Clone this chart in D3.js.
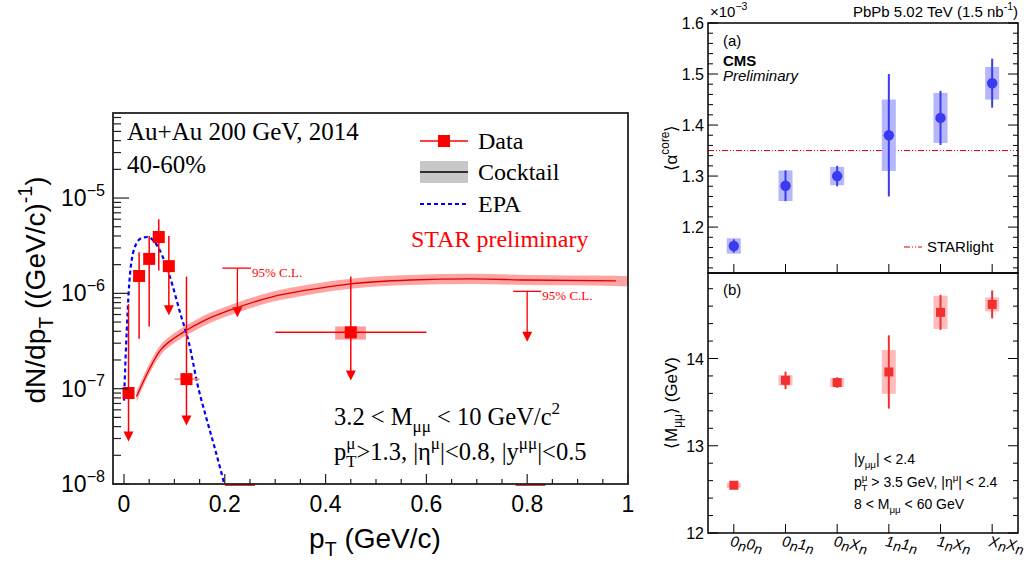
<!DOCTYPE html>
<html lang="en">
<head>
<meta charset="UTF-8">
<title>STAR pT spectrum and CMS neutron classes</title>
<script src="https://cdn.jsdelivr.net/npm/d3@7"></script>
<style>body{margin:0;background:#fff}</style>
</head>
<body>
<div id="chart"></div>
<script>
const width = 1026
const height = 566

// ---- left panel: STAR dN/dpT ----
const dataPt = [0.009, 0.03, 0.05, 0.069, 0.089, 0.124, 0.45]
const dataY = [9.0e-8, 1.52e-6, 2.3e-6, 3.9e-6, 1.93e-6, 1.26e-7, 3.9e-7]
const dataHi = [7.7e-7, 2.7e-6, 4.0e-6, 6.0e-6, 4.0e-6, 1.5e-6, 1.5e-6]
const dataLo = [2.8e-8, 3.35e-7, 4.5e-7, 1.74e-6, 5.9e-7, 4.1e-8, 1.22e-7]
const dataArrow = [true, false, false, false, true, true, true]
const dataXLo = [null, null, null, null, null, 0.10, 0.30]
const dataXHi = [null, null, null, null, null, 0.15, 0.60]
const sysPt = [0.419, 0.48]
const sysY = [3.27e-7, 4.5e-7]

const ulPt = [0.225, 0.80]
const ulY = [1.84e-6, 1.05e-6]
const ulArrow = [5.6e-7, 3.1e-7]
const ulXLo = [0.195, 0.772]
const ulXHi = [0.252, 0.828]

const cockPt = [0.025, 0.074, 0.10, 0.124, 0.16, 0.225, 0.294, 0.362, 0.45, 0.568, 0.69, 0.80, 0.976]
const cockY = [8.3e-8, 2.6e-7, 3.4e-7, 4.1e-7, 5.2e-7, 7.1e-7, 9.2e-7, 1.08e-6, 1.26e-6, 1.38e-6, 1.42e-6, 1.38e-6, 1.35e-6]
const cockBandEnd = [1.0, 1.34e-6]

const epaPt = [0.0, 0.0055, 0.012, 0.023, 0.035, 0.047, 0.06, 0.07, 0.091, 0.112, 0.129, 0.146, 0.163, 0.18, 0.199]
const epaY = [7.5e-8, 4.1e-7, 1.6e-6, 3.2e-6, 3.8e-6, 3.9e-6, 3.5e-6, 2.9e-6, 1.5e-6, 6.1e-7, 3.0e-7, 1.1e-7, 5.0e-8, 2.4e-8, 1.0e-8]

const xTicksL = [0, 0.2, 0.4, 0.6, 0.8, 1]
const xTickLabelsL = ["0", "0.2", "0.4", "0.6", "0.8", "1"]
const yDecadesL = [-8, -7, -6, -5]

// ---- right panels: CMS ----
const cats = ["0n0n", "0n1n", "0nXn", "1n1n", "1nXn", "XnXn"]
const alphaVal = [1.163, 1.281, 1.300, 1.380, 1.414, 1.482]
const alphaStat = [0.013, 0.03, 0.02, 0.12, 0.053, 0.048]
const alphaSys = [0.015, 0.03, 0.018, 0.07, 0.049, 0.032]
const starlight = 1.35
const massVal = [12.547, 13.75, 13.724, 13.846, 14.529, 14.62]
const massStat = [0.02, 0.1, 0.06, 0.42, 0.2, 0.16]
const massSys = [0.03, 0.06, 0.05, 0.25, 0.19, 0.08]
const yTicksA = [1.2, 1.3, 1.4, 1.5, 1.6]
const yTicksB = [12, 13, 14]

const sans = "'Liberation Sans', Arial, sans-serif"
const serif = "'Liberation Serif', 'Times New Roman', serif"

const svg = d3.select("#chart").append("svg")
    .attr("width", width).attr("height", height)

// text with sub/superscripts: parts = [[text, "sub"|"sup", dx]]
const rich = (sel, parts, size, scale = 0.7) => {
    let cur = 0
    parts.forEach(([t, k, dx]) => {
        const target = k === "sub" ? size * 0.3 : k === "sup" ? -size * 0.45 : 0
        const ts = sel.append("tspan").text(t).attr("dy", target - cur)
        if (k) ts.attr("font-size", size * scale)
        if (dx) ts.attr("dx", dx)
        cur = target
    })
    return sel
}
const label = (x, y, size, family, fill) => svg.append("text")
    .attr("x", x).attr("y", y).attr("font-size", size)
    .attr("font-family", family).attr("fill", fill || "#000")

// ================= LEFT =================
const L = {x0: 113, x1: 628, y0: 113, y1: 484}
const xL = d3.scaleLinear().domain([-0.0218, 1]).range([L.x0, L.x1])
const yL = d3.scaleLog().domain([1e-8, 7.8e-5]).range([L.y1, L.y0])

svg.append("clipPath").attr("id", "clipL").append("rect")
    .attr("x", L.x0).attr("y", L.y0).attr("width", L.x1 - L.x0).attr("height", L.y1 - L.y0)
const plotL = svg.append("g").attr("clip-path", "url(#clipL)")

const cock = cockPt.map((p, i) => [p, cockY[i]])
plotL.append("path")
    .datum(cock.concat([cockBandEnd]))
    .attr("fill", "#ffa3a3")
    .attr("d", d3.area().x(d => xL(d[0])).y0(d => yL(d[1] / 1.13)).y1(d => yL(d[1] * 1.13))
        .curve(d3.curveMonotoneX))
plotL.append("path")
    .datum(cock)
    .attr("fill", "none").attr("stroke", "#e00000").attr("stroke-width", 1.3)
    .attr("d", d3.line().x(d => xL(d[0])).y(d => yL(d[1])).curve(d3.curveMonotoneX))

plotL.append("path")
    .datum(epaPt.map((p, i) => [p, epaY[i]]))
    .attr("fill", "none").attr("stroke", "#0000ff").attr("stroke-width", 2.2)
    .attr("stroke-dasharray", "4,3")
    .attr("d", d3.line().x(d => xL(d[0])).y(d => yL(d[1])).curve(d3.curveMonotoneX))

// systematic box on wide bin
plotL.append("rect")
    .attr("x", xL(sysPt[0])).attr("width", xL(sysPt[1]) - xL(sysPt[0]))
    .attr("y", yL(sysY[1])).attr("height", yL(sysY[0]) - yL(sysY[1]))
    .attr("fill", "#ff9c9c")

const arrowHead = (g, x, y) => g.append("path")
    .attr("d", `M${x - 5},${y - 10}L${x + 5},${y - 10}L${x},${y}Z`)
    .attr("fill", "#ff0000")

dataPt.forEach((p, i) => {
    const x = xL(p)
    if (dataXLo[i] !== null) {
        plotL.append("line")
            .attr("x1", xL(dataXLo[i])).attr("x2", xL(dataXHi[i]))
            .attr("y1", yL(dataY[i])).attr("y2", yL(dataY[i]))
            .attr("stroke", i === 5 ? "#ff8080" : "#ff0000").attr("stroke-width", 1.5)
    }
    plotL.append("line")
        .attr("x1", x).attr("x2", x)
        .attr("y1", yL(dataHi[i])).attr("y2", yL(dataLo[i]) - (dataArrow[i] ? 4 : 0))
        .attr("stroke", "#ff0000").attr("stroke-width", 1.5)
    if (dataArrow[i]) arrowHead(plotL, x, yL(dataLo[i]))
    plotL.append("rect")
        .attr("x", x - 6).attr("y", yL(dataY[i]) - 6)
        .attr("width", 12).attr("height", 12).attr("fill", "#ff0000")
})

ulPt.forEach((p, i) => {
    const x = xL(p)
    plotL.append("line")
        .attr("x1", xL(ulXLo[i])).attr("x2", xL(ulXHi[i]))
        .attr("y1", yL(ulY[i])).attr("y2", yL(ulY[i]))
        .attr("stroke", "#ff0000").attr("stroke-width", 1.3)
    plotL.append("line")
        .attr("x1", x).attr("x2", x)
        .attr("y1", yL(ulY[i])).attr("y2", yL(ulArrow[i]) - 4)
        .attr("stroke", "#ff0000").attr("stroke-width", 1.3)
    arrowHead(plotL, x, yL(ulArrow[i]))
    label(xL(ulXHi[i]) + 1, yL(ulY[i]) + 9, 13, serif, "#ff0000").text("95% C.L.")
    // clipped bin marks on the axis
    svg.append("line")
        .attr("x1", xL(ulXLo[i] + 0.005)).attr("x2", xL(ulXHi[i] + 0.008))
        .attr("y1", L.y1 + 1).attr("y2", L.y1 + 1)
        .attr("stroke", "#b00000").attr("stroke-width", 1.5)
})

// frame + ticks
svg.append("rect")
    .attr("x", L.x0).attr("y", L.y0).attr("width", L.x1 - L.x0).attr("height", L.y1 - L.y0)
    .attr("fill", "none").attr("stroke", "#222").attr("stroke-width", 1.8)

const ticksL = svg.append("g").attr("stroke", "#222").attr("stroke-width", 1.2)
yDecadesL.forEach(k => {
    d3.range(1, 10).forEach(j => {
        const v = j * Math.pow(10, k)
        if (v > yL.domain()[1]) return
        ticksL.append("line")
            .attr("x1", L.x0).attr("x2", L.x0 + (j === 1 ? 16 : 8))
            .attr("y1", yL(v)).attr("y2", yL(v))
    })
    rich(label(L.x0 - 8, yL(Math.pow(10, k)) + 8, 23, sans).attr("text-anchor", "end"),
        [["10"], ["\u2212" + (-k), "sup"]], 23)
})
d3.range(0, 21).forEach(i => {
    const v = i * 0.05
    ticksL.append("line")
        .attr("x1", xL(v)).attr("x2", xL(v))
        .attr("y1", L.y1).attr("y2", L.y1 - (i % 4 === 0 ? 10 : 5))
})
xTicksL.forEach((v, i) => {
    label(xL(v), 512, 23, sans).attr("text-anchor", "middle").text(xTickLabelsL[i])
})

rich(label(375, 548, 28, sans).attr("text-anchor", "middle"),
    [["p"], ["T", "sub"], [" (GeV/c)"]], 28)
rich(svg.append("text").attr("transform", "translate(45,290) rotate(-90)")
    .attr("text-anchor", "middle").attr("font-size", 28).attr("font-family", sans),
    [["dN/dp"], ["T", "sub"], [" ((GeV/c)"], ["-1", "sup"], [")"]], 28)

// legend + labels
label(127, 140, 25, serif).text("Au+Au 200 GeV, 2014")
label(127, 173, 25, serif).text("40-60%")
svg.append("line").attr("x1", 420).attr("x2", 468).attr("y1", 141).attr("y2", 141)
    .attr("stroke", "#ff0000").attr("stroke-width", 1.5)
svg.append("rect").attr("x", 438).attr("y", 135).attr("width", 12).attr("height", 12)
    .attr("fill", "#ff0000")
label(478, 149, 24, serif).text("Data")
svg.append("rect").attr("x", 420).attr("y", 161).attr("width", 48).attr("height", 22)
    .attr("fill", "#c8c8c8")
svg.append("line").attr("x1", 420).attr("x2", 468).attr("y1", 172).attr("y2", 172)
    .attr("stroke", "#000").attr("stroke-width", 1.3)
label(478, 180, 24, serif).text("Cocktail")
svg.append("line").attr("x1", 420).attr("x2", 468).attr("y1", 204).attr("y2", 204)
    .attr("stroke", "#0000ff").attr("stroke-width", 2.2).attr("stroke-dasharray", "4,3")
label(478, 212, 24, serif).text("EPA")
label(411, 247, 24, serif, "#ff0000").text("STAR preliminary")

rich(label(334, 425, 24.5, serif), [["3.2 < M"], ["\u03bc\u03bc", "sub"], [" < 10 GeV/c"], ["2", "sup"]], 24.5)
rich(label(334, 460, 24.5, serif),
    [["p"], ["\u03bc", "sup"], ["T", "sub", -9.5], [">1.3, |\u03b7"], ["\u03bc", "sup"],
     ["|<0.8, |y"], ["\u03bc\u03bc", "sup"], ["|<0.5"]], 24.5)

// ================= RIGHT =================
const R = {x0: 708, x1: 1018}
const xR = d3.scaleBand().domain(cats).range([R.x0, R.x1])
const cx = c => xR(c) + xR.bandwidth() / 2
const yA = d3.scaleLinear().domain([1.11, 1.6]).range([273, 23])
const yB = d3.scaleLinear().domain([12, 14.98]).range([533, 273])

const panel = (y, majors, minorStep, fmt) => {
    const [lo, hi] = y.domain()
    const [b, t] = y.range()
    const g = svg.append("g").attr("stroke", "#000").attr("stroke-width", 1)
    d3.range(Math.ceil(lo / minorStep - 1e-6), Math.floor(hi / minorStep + 1e-6) + 1).forEach(k => {
        const v = k * minorStep
        const major = majors.some(m => Math.abs(m - v) < 1e-6)
        const len = major ? 10 : 5
        g.append("line").attr("x1", R.x0).attr("x2", R.x0 + len).attr("y1", y(v)).attr("y2", y(v))
        g.append("line").attr("x1", R.x1).attr("x2", R.x1 - len).attr("y1", y(v)).attr("y2", y(v))
    })
    cats.forEach(c => {
        g.append("line").attr("x1", cx(c)).attr("x2", cx(c)).attr("y1", b).attr("y2", b - 9)
    })
    majors.forEach(m => {
        label(R.x0 - 4, y(m) + 6, 16, sans).attr("text-anchor", "end").text(fmt(m))
    })
    svg.append("rect").attr("x", R.x0).attr("y", t).attr("width", R.x1 - R.x0).attr("height", b - t)
        .attr("fill", "none").attr("stroke", "#000").attr("stroke-width", 1.5)
}

// panel (a)
svg.append("line").attr("x1", R.x0).attr("x2", R.x1).attr("y1", yA(starlight)).attr("y2", yA(starlight))
    .attr("stroke", "#e00000").attr("stroke-width", 1).attr("stroke-dasharray", "6,2,1,2,1,2")
cats.forEach((c, i) => {
    svg.append("rect").attr("x", cx(c) - 7).attr("width", 14)
        .attr("y", yA(alphaVal[i] + alphaSys[i])).attr("height", yA(alphaVal[i] - alphaSys[i]) - yA(alphaVal[i] + alphaSys[i]))
        .attr("fill", "#b5b7fa")
    svg.append("line").attr("x1", cx(c)).attr("x2", cx(c))
        .attr("y1", yA(alphaVal[i] + alphaStat[i])).attr("y2", yA(alphaVal[i] - alphaStat[i]))
        .attr("stroke", "#3a3af0").attr("stroke-width", 2)
    svg.append("circle").attr("cx", cx(c)).attr("cy", yA(alphaVal[i])).attr("r", 5.2)
        .attr("fill", "#3a3af0")
})
panel(yA, yTicksA, 0.02, d3.format(".1f"))

// panel (b)
cats.forEach((c, i) => {
    svg.append("rect").attr("x", cx(c) - 7).attr("width", 14)
        .attr("y", yB(massVal[i] + massSys[i])).attr("height", yB(massVal[i] - massSys[i]) - yB(massVal[i] + massSys[i]))
        .attr("fill", "#ffbcbc")
    svg.append("line").attr("x1", cx(c)).attr("x2", cx(c))
        .attr("y1", yB(massVal[i] + massStat[i])).attr("y2", yB(massVal[i] - massStat[i]))
        .attr("stroke", "#f23030").attr("stroke-width", 2)
    svg.append("rect").attr("x", cx(c) - 4.5).attr("y", yB(massVal[i]) - 4.5)
        .attr("width", 9).attr("height", 9).attr("fill", "#f23030")
})
panel(yB, yTicksB, 0.2, d3.format("d"))

cats.forEach(c => {
    const t = svg.append("text")
        .attr("transform", `translate(${cx(c) - 4},546) rotate(10)`)
        .attr("font-size", 15).attr("font-family", sans).attr("font-style", "italic")
    const parts = [[c[0]], ["n", "sub"], [c[2]], ["n", "sub"]]
    let cur = 0
    parts.forEach(([s, k]) => {
        const target = k ? 3 : 0
        t.append("tspan").text(s).attr("dy", target - cur).attr("font-size", k ? 14 : 15)
        cur = target
    })
})

// right-hand labels
rich(label(710, 17, 15, sans), [["\u00d710"], ["\u22123", "sup"]], 15)
rich(label(1018, 17, 15, sans).attr("text-anchor", "end"),
    [["PbPb 5.02 TeV (1.5 nb"], ["-1", "sup"], [")"]], 15)
label(723, 46, 15, sans).text("(a)")
label(723, 66, 15, sans).attr("font-weight", "bold").text("CMS")
label(723, 81, 15, sans).attr("font-style", "italic").text("Preliminary")
svg.append("line").attr("x1", 904).attr("x2", 922).attr("y1", 247).attr("y2", 247)
    .attr("stroke", "#e00000").attr("stroke-width", 1).attr("stroke-dasharray", "6,2,1,2,1,2")
label(927, 252, 15, sans).text("STARlight")
label(723, 295, 15, sans).text("(b)")
rich(label(854, 464, 14, sans), [["|y"], ["\u03bc\u03bc", "sub"], ["| < 2.4"]], 14)
rich(label(854, 487, 14, sans),
    [["p"], ["\u03bc", "sup"], ["T", "sub", -6], [" > 3.5 GeV, |\u03b7"], ["\u03bc", "sup"], ["| < 2.4"]], 14)
rich(label(854, 509, 14, sans), [["8 < M"], ["\u03bc\u03bc", "sub"], [" < 60 GeV"]], 14)

rich(svg.append("text").attr("transform", "translate(677,148) rotate(-90)")
    .attr("text-anchor", "middle").attr("font-size", 17).attr("font-family", sans),
    [["\u27e8\u03b1"], ["core", "sup"], ["\u27e9"]], 17)
rich(svg.append("text").attr("transform", "translate(677,403) rotate(-90)")
    .attr("text-anchor", "middle").attr("font-size", 17).attr("font-family", sans),
    [["\u27e8M"], ["\u03bc\u03bc", "sub"], ["\u27e9 (GeV)"]], 17)
</script>
</body>
</html>
